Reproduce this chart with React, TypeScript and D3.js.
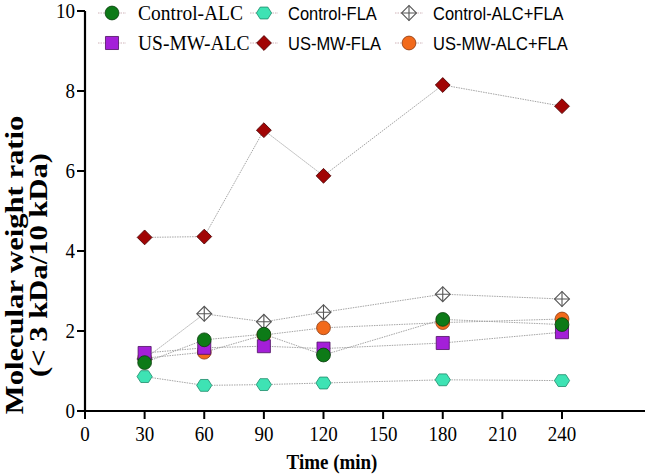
import React, { useEffect, useRef } from "react";
import * as d3 from "d3";

const times = [30, 60, 90, 120, 180, 240];
const xTicks = [0, 30, 60, 90, 120, 150, 180, 210, 240];
const yTicks = [0, 2, 4, 6, 8, 10];

const controlALC = [1.21, 1.78, 1.92, 1.4, 2.29, 2.16];
const usmwALC = [1.45, 1.58, 1.62, 1.56, 1.7, 1.97];
const controlFLA = [0.86, 0.64, 0.66, 0.7, 0.78, 0.76];
const usmwFLA = [4.34, 4.36, 7.02, 5.88, 8.15, 7.62];
const controlALCFLA = [1.3, 2.43, 2.23, 2.47, 2.92, 2.8];
const usmwALCFLA = [1.32, 1.47, 1.9, 2.08, 2.21, 2.3];

type Series = { name: string; values: number[]; shape: string; fill: string; stroke: string; serif: boolean };

// draw order: last one ends on top
const series: Series[] = [
  { name: "US-MW-ALC+FLA", values: usmwALCFLA, shape: "circle", fill: "#f26a1b", stroke: "#8a3a10", serif: false },
  { name: "Control-ALC+FLA", values: controlALCFLA, shape: "crossdiamond", fill: "#ffffff", stroke: "#555555", serif: false },
  { name: "US-MW-ALC", values: usmwALC, shape: "square", fill: "#a41fd8", stroke: "#4b1060", serif: true },
  { name: "Control-ALC", values: controlALC, shape: "circle", fill: "#0d7a17", stroke: "#0a3d0d", serif: true },
  { name: "Control-FLA", values: controlFLA, shape: "hexagon", fill: "#3ee3b4", stroke: "#1d8a6a", serif: false },
  { name: "US-MW-FLA", values: usmwFLA, shape: "diamond", fill: "#a10505", stroke: "#4a0000", serif: false },
];

// legend layout: [series name, column, row]
const legendOrder: [string, number, number][] = [
  ["Control-ALC", 0, 0],
  ["Control-FLA", 1, 0],
  ["Control-ALC+FLA", 2, 0],
  ["US-MW-ALC", 0, 1],
  ["US-MW-FLA", 1, 1],
  ["US-MW-ALC+FLA", 2, 1],
];

const SY = 1.12; // source picture is slightly stretched vertically

const hexagon = {
  draw(ctx: any, size: number) {
    const r = Math.sqrt(size / 2.598);
    for (let i = 0; i < 6; i++) {
      const a = (Math.PI / 3) * i;
      const px = r * Math.cos(a);
      const py = r * Math.sin(a) * 0.9;
      if (i === 0) ctx.moveTo(px, py);
      else ctx.lineTo(px, py);
    }
    ctx.closePath();
  },
};

const drawMarker = (g: any, s: Series, cx: number, cy: number) => {
  const m = g.append("g").attr("transform", `translate(${cx},${cy})`);
  if (s.shape === "circle") {
    m.append("path").attr("d", d3.symbol().type(d3.symbolCircle).size(150)()).attr("fill", s.fill).attr("stroke", s.stroke).attr("stroke-width", 0.8);
  } else if (s.shape === "square") {
    m.append("path").attr("d", d3.symbol().type(d3.symbolSquare).size(170)()).attr("fill", s.fill).attr("stroke", s.stroke).attr("stroke-width", 0.8);
  } else if (s.shape === "hexagon") {
    m.append("path").attr("d", d3.symbol().type(hexagon as any).size(150)()).attr("fill", s.fill).attr("stroke", s.stroke).attr("stroke-width", 0.8);
  } else if (s.shape === "diamond") {
    m.append("path").attr("d", d3.symbol().type(d3.symbolSquare).size(110)()).attr("transform", "rotate(45)").attr("fill", s.fill).attr("stroke", s.stroke).attr("stroke-width", 0.8);
  } else {
    m.append("path").attr("d", d3.symbol().type(d3.symbolSquare).size(110)()).attr("transform", "rotate(45)").attr("fill", s.fill).attr("stroke", s.stroke).attr("stroke-width", 1.1);
    m.append("path").attr("d", "M-7.4,0H7.4M0,-7.4V7.4").attr("stroke", s.stroke).attr("stroke-width", 1.1);
  }
};

const App = () => {
  const ref = useRef<SVGSVGElement>(null);

  useEffect(() => {
    const svg = d3.select(ref.current);
    svg.selectAll("*").remove();

    const x = d3.scaleLinear().domain([0, 240]).range([85, 562]);
    const y = d3.scaleLinear().domain([0, 10]).range([411, 11]);

    // Y axis
    const yAxis = svg.append("g").attr("transform", "translate(85,0)");
    yAxis.append("line").attr("x1", 0).attr("x2", 0).attr("y1", y(0)).attr("y2", y(10)).attr("stroke", "#000").attr("stroke-width", 2.2);
    yTicks.forEach((t) => {
      yAxis.append("line").attr("x1", -8).attr("x2", 0).attr("y1", y(t)).attr("y2", y(t)).attr("stroke", "#000").attr("stroke-width", 2);
      yAxis
        .append("text")
        .attr("transform", `translate(-10,${y(t) + 6.5}) scale(1,${SY})`)
        .attr("text-anchor", "end")
        .attr("font-family", "Liberation Serif, serif")
        .attr("font-size", 19)
        .text(t);
    });

    // X axis
    const xAxis = svg.append("g").attr("transform", `translate(0,${y(0)})`);
    xAxis.append("line").attr("x1", 84).attr("x2", 645).attr("y1", 0).attr("y2", 0).attr("stroke", "#000").attr("stroke-width", 2.2);
    xTicks.forEach((t) => {
      xAxis.append("line").attr("x1", x(t)).attr("x2", x(t)).attr("y1", 0).attr("y2", 8).attr("stroke", "#000").attr("stroke-width", 2);
      xAxis
        .append("text")
        .attr("transform", `translate(${x(t)},${30}) scale(1,${SY})`)
        .attr("text-anchor", "middle")
        .attr("font-family", "Liberation Serif, serif")
        .attr("font-size", 19)
        .text(t);
    });

    svg
      .append("text")
      .attr("transform", `translate(332,469) scale(1,${SY})`)
      .attr("text-anchor", "middle")
      .attr("font-family", "Liberation Serif, serif")
      .attr("font-weight", "bold")
      .attr("font-size", 19)
      .text("Time (min)");

    // Y title, two lines
    const yt = svg.append("g").attr("transform", `translate(0,265) scale(1,1.2) rotate(-90)`);
    yt.append("text").attr("x", 0).attr("y", 23).attr("text-anchor", "middle").attr("font-family", "Liberation Serif, serif").attr("font-weight", "bold").attr("font-size", 25.5).text("Molecular weight ratio");
    yt.append("text").attr("x", 0).attr("y", 47).attr("text-anchor", "middle").attr("font-family", "Liberation Serif, serif").attr("font-weight", "bold").attr("font-size", 25.5).text("(< 3 kDa/10 kDa)");

    // Lines
    const line = d3
      .line<number>()
      .x((_, i) => x(times[i]))
      .y((d) => y(d));
    series.forEach((s) => {
      svg
        .append("path")
        .attr("d", line(s.values))
        .attr("fill", "none")
        .attr("stroke", "#9a9a9a")
        .attr("stroke-width", 0.9)
        .attr("stroke-dasharray", "1.5,1");
    });

    // Markers
    series.forEach((s) => {
      const g = svg.append("g");
      s.values.forEach((v, i) => drawMarker(g, s, x(times[i]), y(v)));
    });

    // Legend
    const colMarker = [112, 264, 409];
    const colText = [138, 288, 433];
    const rowY = [13, 43];
    legendOrder.forEach(([name, c, r]) => {
      const s = series.find((d) => d.name === name)!;
      const lg = svg.append("g");
      lg.append("line")
        .attr("x1", colMarker[c] - 14)
        .attr("x2", colMarker[c] + 14)
        .attr("y1", rowY[r])
        .attr("y2", rowY[r])
        .attr("stroke", "#c9a9b0")
        .attr("stroke-width", 0.9)
        .attr("stroke-dasharray", "1.5,1");
      drawMarker(lg, s, colMarker[c], rowY[r]);
      lg.append("text")
        .attr("transform", `translate(${colText[c]},${rowY[r] + 6.5}) scale(1,${SY})`)
        .attr("font-family", s.serif ? "Liberation Serif, serif" : "Liberation Sans, Arial, sans-serif")
        .attr("font-size", s.serif ? 19.5 : 16.5)
        .text(name);
    });
  }, []);

  return (
    <svg
      ref={ref}
      width={645}
      height={476}
      style={{ position: "absolute", left: 0, top: 0, background: "#fff" }}
    />
  );
};

export default App;
